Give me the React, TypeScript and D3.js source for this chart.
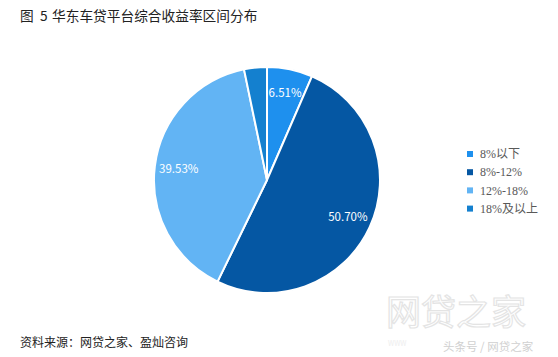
import React from "react";
import * as d3 from "d3";

const categories = ["8%以下", "8%-12%", "12%-18%", "18%及以上"];
const values = [6.51, 50.7, 39.53, 3.26];
const labels = ["6.51%", "50.70%", "39.53%", ""];
const colors = ["#1E90EE", "#0557A3", "#62B4F4", "#1480CF"];

export default function App() {
  const W = 558, H = 357;
  const cx = 267, cy = 180, r = 113;
  const pie = d3.pie<number>().sort(null).value((d) => d);
  const arcs = pie(values);
  const arc = d3.arc<d3.PieArcDatum<number>>().innerRadius(0).outerRadius(r);
  const labelArc = d3.arc<d3.PieArcDatum<number>>().innerRadius(89).outerRadius(89);
  const cjk = "'Noto Sans CJK SC', 'Open Sans', sans-serif";
  return (
    <svg width={W} height={H} style={{ position: "absolute", left: 0, top: 0, background: "#fff" }}>
      <rect width={W} height={H} fill="#fff" />
      <text y={21} fontSize={13.7} fontFamily={cjk} fill="#222">
        <tspan x={20}>图</tspan>
        <tspan x={40}>5</tspan>
        <tspan x={52}>华东车贷平台综合收益率区间分布</tspan>
      </text>
      <g transform={`translate(${cx},${cy})`}>
        {arcs.map((a, i) => (
          <path key={i} d={arc(a) || ""} fill={colors[i]} stroke="#fff" strokeWidth={2} strokeLinejoin="round" />
        ))}
        {arcs.map((a, i) => {
          const [x, y] = labelArc.centroid(a);
          return labels[i] ? (
            <text key={"l" + i} x={x} y={y} dy="0.35em" textAnchor="middle" fontSize={11.5} fontFamily={cjk} fill="#fff">{labels[i]}</text>
          ) : null;
        })}
      </g>
      <g fontFamily="'Liberation Serif', 'Noto Sans CJK SC', serif" fontSize={12} fill="#595959">
        {categories.map((c, i) => (
          <g key={c} transform={`translate(467,${154 + i * 18.2})`}>
            <rect x={0} y={-3} width={6} height={6} fill={colors[i]} />
            <text x={13} y={0} dy="0.35em">{c}</text>
          </g>
        ))}
      </g>
      <text x={20} y={347} fontSize={12} fontFamily={cjk} fill="#222">资料来源：网贷之家、盈灿咨询</text>
      <text x={386} y={325} fontSize={35} fontFamily={cjk} fill="none" stroke="#e4e4e4" strokeWidth={1.2}>网贷之家</text>
      <text x={388} y={346} fontSize={7} fontFamily={cjk} fill="#eeeeee">WWW</text>
      <text x={443} y={351} fontSize={11.5} fontFamily={cjk} fill="#d0d0d0">头条号 / 网贷之家</text>
    </svg>
  );
}
